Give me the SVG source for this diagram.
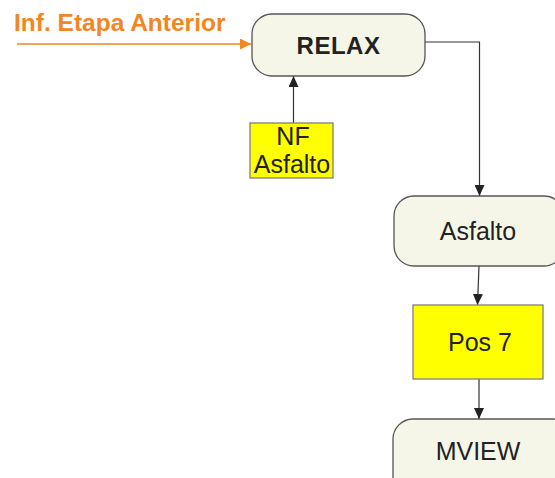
<svg xmlns="http://www.w3.org/2000/svg" width="555" height="478" viewBox="0 0 555 478">
<style>
.rbox{fill:#F6F6E8;stroke:#555555;stroke-width:1.3}
.ybox{fill:#FFFF00;stroke:#808080;stroke-width:1.3}
.t{font-family:"Liberation Sans",Arial,sans-serif;font-size:25px;fill:#222222;text-anchor:middle}
.b{font-weight:bold;font-size:24px;letter-spacing:0.5px}
.c{fill:none;stroke:#333333;stroke-width:1.2}
</style>
<defs>
<marker id="ah" markerWidth="12" markerHeight="10" refX="11" refY="5" orient="auto" markerUnits="userSpaceOnUse">
<path d="M0,0 L11,5 L0,10 Z" fill="#222222"/>
</marker>
<marker id="aho" markerWidth="12" markerHeight="12" refX="11" refY="5.5" orient="auto" markerUnits="userSpaceOnUse">
<path d="M0,0 L11,5.5 L0,11 Z" fill="#F4861F"/>
</marker>
</defs>
<text x="14" y="31" font-family="Liberation Sans,Arial,sans-serif" font-size="24.5" font-weight="bold" fill="#F4861F">Inf. Etapa Anterior</text>
<g id="connectors">
<line x1="17" y1="44" x2="251" y2="44" stroke="#F4861F" stroke-width="1.5" marker-end="url(#aho)"/>
<line class="c" x1="293.5" y1="123" x2="293.5" y2="76" marker-end="url(#ah)"/>
<polyline class="c" points="425,42 479.5,42 479.5,196" marker-end="url(#ah)"/>
<line class="c" x1="479" y1="266" x2="477.5" y2="305" marker-end="url(#ah)"/>
<line class="c" x1="479" y1="379" x2="479" y2="419" marker-end="url(#ah)"/>
</g>
<g id="relax">
<rect class="rbox" x="252" y="14" width="173" height="62" rx="20"/>
<text class="t b" x="338.5" y="53.5">RELAX</text>
</g>
<g id="nf">
<rect class="ybox" x="250" y="123" width="83" height="55"/>
<text class="t" x="293" y="145">NF</text>
<text class="t" x="292" y="173">Asfalto</text>
</g>
<g id="asfalto">
<rect class="rbox" x="394" y="196" width="170" height="70" rx="20"/>
<text class="t" x="478" y="240">Asfalto</text>
</g>
<g id="pos7">
<rect class="ybox" x="413" y="305" width="130" height="74"/>
<text class="t" x="480" y="351">Pos 7</text>
</g>
<g id="mview">
<rect class="rbox" x="393" y="419" width="180" height="80" rx="20"/>
<text class="t" x="478" y="460">MVIEW</text>
</g>
</svg>
